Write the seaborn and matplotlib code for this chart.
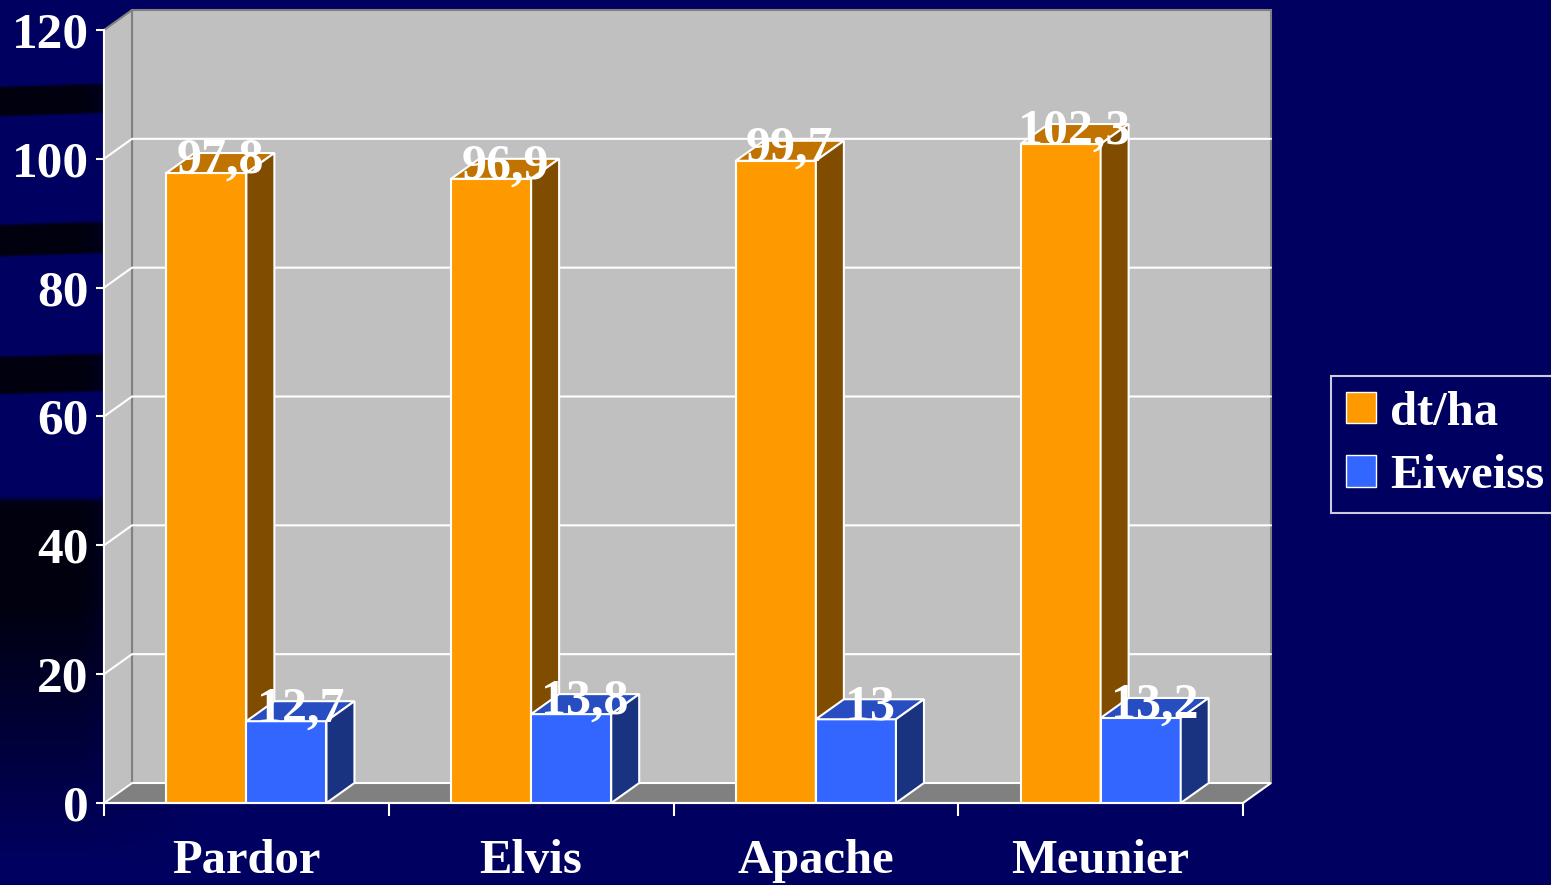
import matplotlib
matplotlib.use("Agg")
import matplotlib.pyplot as plt
import matplotlib.patches as mpatches
import seaborn as sns
import pandas as pd
import numpy as np

# --- data ---
sorten = ["Pardor", "Elvis", "Apache", "Meunier"]
ertrag = [97.8, 96.9, 99.7, 102.3]      # dt/ha
eiweiss = [12.7, 13.8, 13.0, 13.2]      # Eiweiss
serien = ["dt/ha", "Eiweiss"]
y_ticks = [0, 20, 40, 60, 80, 100, 120]

df = pd.DataFrame({
    "Sorte": sorten * 2,
    "Wert": ertrag + eiweiss,
    "Serie": [serien[0]] * 4 + [serien[1]] * 4,
})

# --- colours ---
navy = "#000060"
front_cols = ["#FF9900", "#3366FF"]
top_cols = ["#C07300", "#274DC0"]
side_cols = ["#7F4C00", "#1A3380"]
wall = "#C0C0C0"
floor = "#808080"
font = ["Liberation Serif", "DejaVu Serif"]

sns.set_style("white")
plt.rcParams["font.family"] = font
plt.rcParams["font.weight"] = "bold"

W, H = 1551, 885
fig = plt.figure(figsize=(W / 100, H / 100), dpi=100)
fig.patch.set_facecolor(navy)

# --- background with soft dark streaks on the left ---
bg = fig.add_axes([0, 0, 1, 1])
bg.set_axis_off()
img = np.zeros((H, W, 3))
img[:, :, 2] = 0x60 / 255
xs = np.arange(W)
rows = np.arange(H)[:, None]
fade = np.clip(1 - (xs - 80) / 120, 0, 1)[None, :]
shade = np.zeros((H, W))
for top, bot in [(88, 114), (226, 254), (358, 392)]:
    # slightly curved band
    c = (top + bot) / 2 - xs[None, :] * 0.03
    half = (bot - top) / 2
    shade = np.maximum(shade, np.clip(1 - (np.abs(rows - c) - half) / 3, 0, 1))
low = np.clip((rows - 495) / 8, 0, 1) * np.clip(1 - (rows - 600) / 260, 0, 1)
shade = np.maximum(shade, low * np.ones((1, W)))
img[:, :, 2] *= (1 - 0.85 * shade * fade)
bg.imshow(img, aspect="auto", extent=[0, 1, 0, 1])

# --- main axes ---
x0, x1, y_front0, y_front1 = 104, 1243, 803, 30
ax = fig.add_axes([x0 / W, (H - y_front0) / H, (x1 - x0) / W, (y_front0 - y_front1) / H])
ax.set_facecolor("none")

sns.barplot(data=df, x="Sorte", y="Wert", hue="Serie", order=sorten, hue_order=serien,
            palette=front_cols, saturation=1, width=0.5625, gap=0,
            edgecolor="white", linewidth=1.5, legend=False, ax=ax)

ax.set_xlim(-0.5, len(sorten) - 0.5)
ax.set_ylim(0, 120)

# depth offset in data units (28 px right, 20 px up)
dx = 28 * (len(sorten)) / (x1 - x0)
dy = 20 * 120 / (y_front0 - y_front1)
xl, xr = ax.get_xlim()

# walls and floor
ax.add_patch(mpatches.Polygon([(xl + dx, dy), (xr + dx, dy), (xr + dx, 120 + dy), (xl + dx, 120 + dy)],
                              closed=True, facecolor=wall, edgecolor=floor, lw=1.5, zorder=0.5, clip_on=False))
ax.add_patch(mpatches.Polygon([(xl, 0), (xl, 120), (xl + dx, 120 + dy), (xl + dx, dy)],
                              closed=True, facecolor=wall, edgecolor=floor, lw=1.5, zorder=0.5, clip_on=False))
ax.add_patch(mpatches.Polygon([(xl, 0), (xr, 0), (xr + dx, dy), (xl + dx, dy)],
                              closed=True, facecolor=floor, edgecolor="white", lw=1.5, zorder=0.6, clip_on=False))
for t in y_ticks[1:-1]:
    ax.plot([xl, xl + dx, xr + dx], [t, t + dy, t + dy], color="white", lw=1.5, zorder=0.7, clip_on=False)

# 3D faces of the bars
for k, cont in enumerate(ax.containers):
    for bar in cont.patches:
        bx, bw, bh = bar.get_x(), bar.get_width(), bar.get_height()
        bar.set_zorder(3 + k)
        ax.add_patch(mpatches.Polygon([(bx, bh), (bx + bw, bh), (bx + bw + dx, bh + dy), (bx + dx, bh + dy)],
                                      closed=True, facecolor=top_cols[k], edgecolor="white", lw=1.5,
                                      zorder=3.1 + k, clip_on=False))
        ax.add_patch(mpatches.Polygon([(bx + bw, 0), (bx + bw, bh), (bx + bw + dx, bh + dy), (bx + bw + dx, dy)],
                                      closed=True, facecolor=side_cols[k], edgecolor="white", lw=1.5,
                                      zorder=3.1 + k, clip_on=False))
        label = f"{bh:g}".replace(".", ",")
        ax.text(bx + bw / 2 + dx / 2, bh, label, ha="center", va="baseline", color="white",
                fontsize=36, fontweight="bold", zorder=10, clip_on=False)

# axes styling
for s in ["top", "right"]:
    ax.spines[s].set_visible(False)
for s in ["left", "bottom"]:
    ax.spines[s].set_color("white")
    ax.spines[s].set_linewidth(1.5)
    ax.spines[s].set_zorder(5)

ax.set_yticks(y_ticks)
ax.set_yticklabels([str(t) for t in y_ticks])
ax.tick_params(axis="y", colors="white", length=6, width=1.5, pad=5, labelsize=37, left=True)
ax.set_xticks(np.arange(-0.5, len(sorten), 1.0))
ax.set_xticklabels([])
ax.set_xticks(range(len(sorten)), minor=True)
ax.set_xticklabels(sorten, minor=True)
ax.tick_params(axis="x", which="major", colors="white", length=9, width=1.5, bottom=True)
ax.tick_params(axis="x", which="minor", length=0, pad=26, labelsize=35, labelcolor="white")
for lab in ax.get_yticklabels() + ax.get_xticklabels(minor=True):
    lab.set_fontweight("bold")
ax.set_xlabel("")
ax.set_ylabel("")

# legend
handles = [mpatches.Patch(facecolor=c, edgecolor="white", lw=1.0) for c in front_cols]
leg = fig.legend(handles, serien, loc="upper left", bbox_to_anchor=(1331 / W, 1 - 376 / H),
                 frameon=True, facecolor=navy, edgecolor="white", fancybox=False,
                 borderaxespad=0, handlelength=0.62, handleheight=0.62,
                 handletextpad=0.3, labelspacing=0.4, borderpad=0.3,
                 prop={"family": font, "weight": "bold", "size": 35})
leg.get_frame().set_linewidth(1.5)
for t in leg.get_texts():
    t.set_color("white")

fig.savefig("out.png", dpi=100, facecolor=navy)
